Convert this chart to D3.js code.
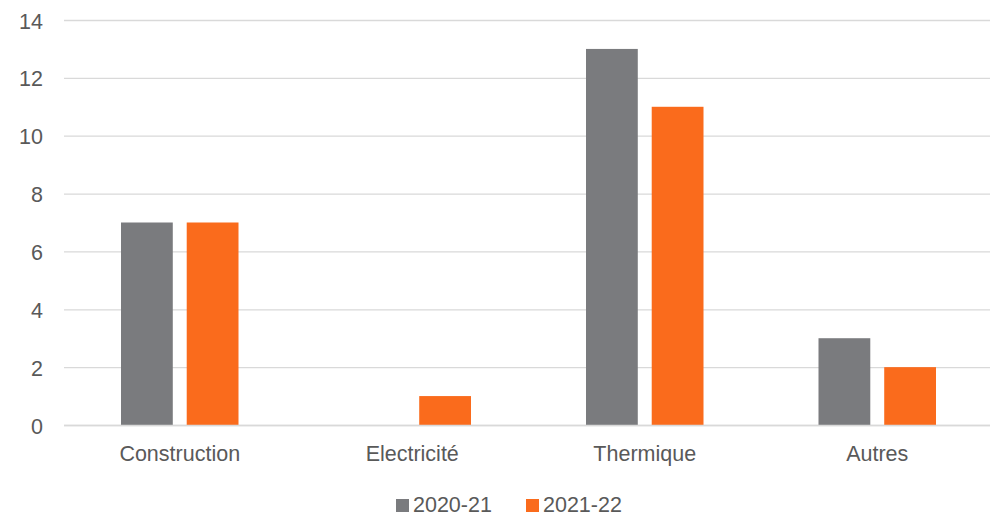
<!DOCTYPE html>
<html>
<head>
<meta charset="utf-8">
<script src="https://cdn.jsdelivr.net/npm/d3@7"></script>
<style>
  body { margin: 0; background: #fff; }
  svg text { font-family: "Liberation Sans", Arial, sans-serif; fill: #595959; }
</style>
</head>
<body>
<svg id="chart" width="997" height="516"></svg>
<script>
const categories = ["Construction", "Electricité", "Thermique", "Autres"];
const series = ["2020-21", "2021-22"];
const values2020 = [7, 0, 13, 3];
const values2021 = [7, 1, 11, 2];
const yTicks = [0, 2, 4, 6, 8, 10, 12, 14];
const colors = ["#7a7b7e", "#fa6b1c"];

const svg = d3.select("#chart");
const margin = { top: 20, right: 7, bottom: 91, left: 64 };
const width = 997, height = 516;
const fontSize = 21.5;

const x0 = d3.scaleBand()
    .domain(categories)
    .range([63.5, 993.5]);

const x1 = d3.scaleBand()
    .domain(series)
    .range([57.5, x0.bandwidth() - 57.5])
    .paddingInner(0.212);

const y = d3.scaleLinear()
    .domain([0, 14])
    .range([height - margin.bottom, margin.top]);

// gridlines
svg.append("g")
    .selectAll("line")
    .data(yTicks)
    .join("line")
    .attr("x1", margin.left)
    .attr("x2", width - margin.right)
    .attr("y1", d => y(d) + 0.5)
    .attr("y2", d => y(d) + 0.5)
    .attr("stroke", "#d9d9d9")
    .attr("stroke-width", 1.3);

// y labels
svg.append("g")
    .selectAll("text")
    .data(yTicks)
    .join("text")
    .attr("x", 43)
    .attr("y", d => y(d) + 1)
    .attr("dy", "0.35em")
    .attr("text-anchor", "end")
    .attr("font-size", fontSize)
    .text(d => d);

// bars
const data = categories.map((c, i) => ({ cat: c, vals: [values2020[i], values2021[i]] }));
const groups = svg.append("g")
    .selectAll("g")
    .data(data)
    .join("g")
    .attr("transform", d => `translate(${x0(d.cat)},0)`);

groups.selectAll("rect")
    .data(d => d.vals.map((v, j) => ({ s: series[j], v: v, j: j })))
    .join("rect")
    .attr("x", d => x1(d.s))
    .attr("width", x1.bandwidth())
    .attr("y", d => y(d.v))
    .attr("height", d => y(0) - y(d.v))
    .attr("fill", d => colors[d.j]);

// baseline
svg.append("line")
    .attr("x1", margin.left)
    .attr("x2", width - margin.right)
    .attr("y1", y(0) + 0.5)
    .attr("y2", y(0) + 0.5)
    .attr("stroke", "#d9d9d9")
    .attr("stroke-width", 1.3);

// category labels
svg.append("g")
    .selectAll("text")
    .data(categories)
    .join("text")
    .attr("x", d => x0(d) + x0.bandwidth() / 2)
    .attr("y", 461)
    .attr("text-anchor", "middle")
    .attr("font-size", fontSize)
    .text(d => d);

// legend
const legendX = [396, 526];
const legend = svg.append("g")
    .selectAll("g")
    .data(series)
    .join("g")
    .attr("transform", (d, i) => `translate(${legendX[i]},499)`);
legend.append("rect")
    .attr("width", 13)
    .attr("height", 13)
    .attr("fill", (d, i) => colors[i]);
legend.append("text")
    .attr("x", 17)
    .attr("y", 13)
    .attr("font-size", fontSize)
    .text(d => d);
</script>
</body>
</html>
